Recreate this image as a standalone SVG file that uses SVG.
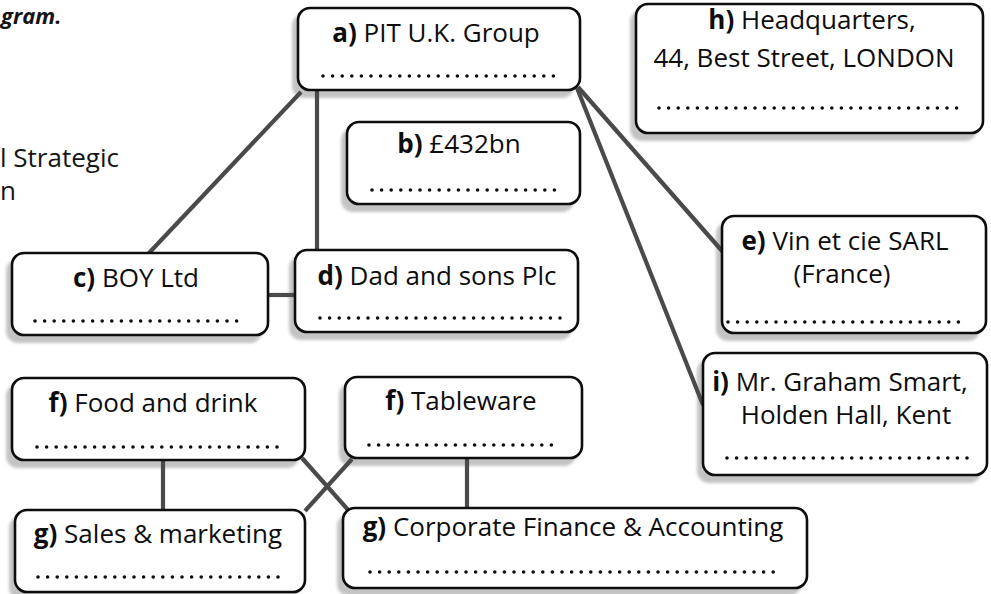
<svg xmlns="http://www.w3.org/2000/svg" width="991" height="594" viewBox="0 0 991 594">
  <defs>
    <filter id="soft" x="-10%" y="-20%" width="120%" height="140%">
      <feGaussianBlur stdDeviation="1.6"/>
    </filter>
    <style>
      .box { fill: #ffffff; stroke: #0d0d0d; stroke-width: 2.6; }
      .shadow { fill: #bdbdbd; opacity: 0.9; filter: url(#soft); }
      .lbl { font-family: "Open Sans", "Noto Sans", "Liberation Sans", sans-serif; font-size: 26px; fill: #0d0d0d; text-anchor: middle; }
      .lbl .k { font-weight: 700; }
      .dots { stroke: #0d0d0d; stroke-width: 3.6; stroke-linecap: round; stroke-dasharray: 0 9.6; fill: none; }
      .edge { stroke: #4a4a4a; stroke-width: 4.2; fill: none; stroke-linecap: butt; }
      .page { font-family: "Open Sans", "Noto Sans", "Liberation Sans", sans-serif; font-size: 26px; fill: #151515; }
      .page-b { font-family: "Open Sans", "Noto Sans", "Liberation Sans", sans-serif; font-size: 22px; font-weight: 700; font-style: italic; fill: #151515; }
    </style>
  </defs>
  <rect x="0" y="0" width="991" height="594" fill="#ffffff"/>

  <!-- page text fragments -->
  <text class="page-b" x="1" y="24">gram.</text>
  <text class="page" x="0" y="167">l Strategic</text>
  <text class="page" x="0" y="200">n</text>

  <!-- shadows -->
  <g id="shadows">
    <rect class="shadow" x="292" y="14" width="282" height="84" rx="12"/>
    <rect class="shadow" x="341" y="128" width="233" height="84" rx="12"/>
    <rect class="shadow" x="630" y="10" width="347" height="131" rx="12"/>
    <rect class="shadow" x="716" y="222" width="264" height="119" rx="12"/>
    <rect class="shadow" x="697" y="359" width="284" height="124" rx="12"/>
    <rect class="shadow" x="6" y="259" width="256" height="84" rx="12"/>
    <rect class="shadow" x="289" y="256" width="283" height="84" rx="12"/>
    <rect class="shadow" x="6" y="384" width="293" height="84" rx="12"/>
    <rect class="shadow" x="339" y="383" width="237" height="83" rx="12"/>
    <rect class="shadow" x="9" y="516" width="290" height="84" rx="12"/>
    <rect class="shadow" x="337" y="514" width="464" height="82" rx="12"/>
  </g>

  <!-- connectors -->
  <g id="connectors">
    <path class="edge" d="M301,92 L149,253"/>
    <path class="edge" d="M317,90 L317,250"/>
    <path class="edge" d="M268,295 L295,295"/>
    <path class="edge" d="M578,87 L723,252"/>
    <path class="edge" d="M577,88 L703,405"/>
    <path class="edge" d="M163,460 L163,510"/>
    <path class="edge" d="M467,458 L467,508"/>
    <path class="edge" d="M302,458 L349,511"/>
    <path class="edge" d="M352,459 L305,511"/>
  </g>

  <g id="node-a">
    <rect class="box" x="298" y="8" width="282" height="82" rx="12"/>
    <text class="lbl" x="436" y="42"><tspan class="k">a)</tspan> PIT U.K. Group</text>
    <line class="dots" x1="323" y1="76" x2="557" y2="76"/>
  </g>
  <g id="node-b">
    <rect class="box" x="347" y="122" width="233" height="82" rx="12"/>
    <text class="lbl" x="459" y="153"><tspan class="k">b)</tspan> £432bn</text>
    <line class="dots" x1="372" y1="190" x2="560" y2="190"/>
  </g>
  <g id="node-h">
    <rect class="box" x="636" y="4" width="347" height="129" rx="12"/>
    <text class="lbl" x="812" y="29"><tspan class="k">h)</tspan> Headquarters,</text>
    <text class="lbl" x="804" y="67">44, Best Street, LONDON</text>
    <line class="dots" x1="659" y1="108" x2="962" y2="108"/>
  </g>
  <g id="node-e">
    <rect class="box" x="722" y="216" width="264" height="117" rx="12"/>
    <text class="lbl" x="845" y="250"><tspan class="k">e)</tspan> Vin et cie SARL</text>
    <text class="lbl" x="842" y="283">(France)</text>
    <line class="dots" x1="728" y1="322" x2="962" y2="322"/>
  </g>
  <g id="node-i">
    <rect class="box" x="703" y="353" width="284" height="122" rx="12"/>
    <text class="lbl" x="840" y="391"><tspan class="k">i)</tspan> Mr. Graham Smart,</text>
    <text class="lbl" x="846" y="424">Holden Hall, Kent</text>
    <line class="dots" x1="727" y1="458" x2="968" y2="458"/>
  </g>
  <g id="node-c">
    <rect class="box" x="12" y="253" width="256" height="82" rx="12"/>
    <text class="lbl" x="136" y="287"><tspan class="k">c)</tspan> BOY Ltd</text>
    <line class="dots" x1="35" y1="321" x2="243" y2="321"/>
  </g>
  <g id="node-d">
    <rect class="box" x="295" y="250" width="283" height="82" rx="12"/>
    <text class="lbl" x="437" y="285"><tspan class="k">d)</tspan> Dad and sons Plc</text>
    <line class="dots" x1="320" y1="318" x2="562" y2="318"/>
  </g>
  <g id="node-f-food">
    <rect class="box" x="12" y="378" width="293" height="82" rx="12"/>
    <text class="lbl" x="153" y="412"><tspan class="k">f)</tspan> Food and drink</text>
    <line class="dots" x1="37" y1="447" x2="278" y2="447"/>
  </g>
  <g id="node-f-tableware">
    <rect class="box" x="345" y="377" width="237" height="81" rx="12"/>
    <text class="lbl" x="461" y="410"><tspan class="k">f)</tspan> Tableware</text>
    <line class="dots" x1="369" y1="445" x2="557" y2="445"/>
  </g>
  <g id="node-g-sales">
    <rect class="box" x="15" y="510" width="290" height="82" rx="12"/>
    <text class="lbl" x="158" y="543"><tspan class="k">g)</tspan> Sales &amp; marketing</text>
    <line class="dots" x1="38" y1="577" x2="283" y2="577"/>
  </g>
  <g id="node-g-finance">
    <rect class="box" x="343" y="508" width="464" height="80" rx="12"/>
    <text class="lbl" x="573" y="536"><tspan class="k">g)</tspan> Corporate Finance &amp; Accounting</text>
    <line class="dots" x1="370" y1="572" x2="777" y2="572"/>
  </g>
</svg>
